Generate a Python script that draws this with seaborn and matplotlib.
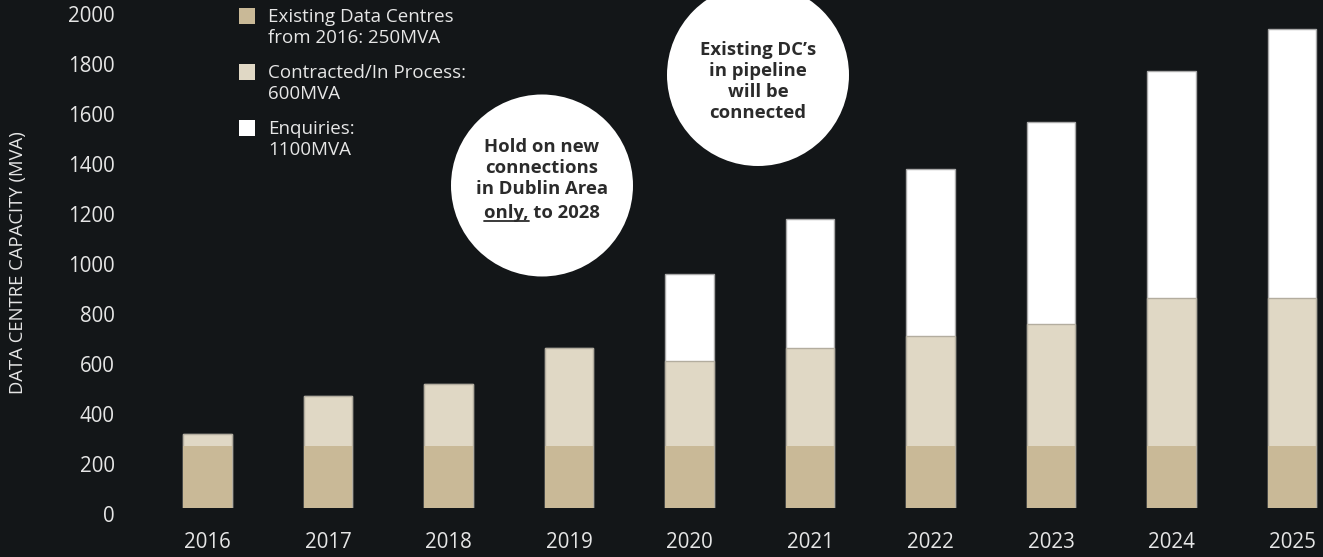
import matplotlib
matplotlib.use('Agg')
import matplotlib.pyplot as plt
import seaborn as sns
import pandas as pd
from matplotlib.patches import Circle, Rectangle
from matplotlib.lines import Line2D
from matplotlib.transforms import ScaledTranslation

# values (MVA)
years = ['2016', '2017', '2018', '2019', '2020', '2021', '2022', '2023', '2024', '2025']
existing = [250, 250, 250, 250, 250, 250, 250, 250, 250, 250]
contracted = [45, 200, 245, 390, 340, 390, 437, 486, 590, 590]
enquiries = [0, 0, 0, 0, 345, 515, 668, 809, 908, 1078]

legend_labels = ['Existing Data Centres\nfrom 2016: 250MVA',
                 'Contracted/In Process:\n600MVA',
                 'Enquiries:\n1100MVA']
hold_note = 'Hold on new\nconnections\nin Dublin Area'
hold_last = ('only,', ' to 2028')
pipeline_note = 'Existing DC\u2019s\nin pipeline\nwill be\nconnected'
y_title = 'DATA CENTRE CAPACITY (MVA)'

BG = '#131618'
TXT = '#e6e6e6'
NOTE = '#2b2b2b'
C_EXIST = '#c9b997'
C_CONTR = '#e0d8c5'
C_ENQ = '#ffffff'

sns.set_theme(style='dark')
plt.rcParams['font.family'] = ['Open Sans', 'DejaVu Sans']

df = pd.DataFrame({'year': years, 'existing': existing,
                   'contracted': contracted, 'enquiries': enquiries})
df['lvl1'] = df['existing']
df['lvl2'] = df['lvl1'] + df['contracted']
df['lvl3'] = df['lvl2'] + df['enquiries']

fig = plt.figure(figsize=(13.23, 5.57), dpi=100, facecolor=BG)
ax = fig.add_axes([130 / 1323, 49 / 557, 1193 / 1323, 508 / 557])
ax.set_facecolor(BG)

# stacked look: draw cumulative totals, tallest first
sns.barplot(data=df, x='year', y='lvl3', order=years, color=C_ENQ, saturation=1,
            width=0.4, edgecolor='#a9a9a9', linewidth=1, errorbar=None, ax=ax)
sns.barplot(data=df, x='year', y='lvl2', order=years, color=C_CONTR, saturation=1,
            width=0.4, edgecolor='#b3ad9f', linewidth=1, errorbar=None, ax=ax)
sns.barplot(data=df, x='year', y='lvl1', order=years, color=C_EXIST, saturation=1,
            width=0.4, linewidth=0, errorbar=None, ax=ax)

ax.set_xlim(-0.643, 9.257)
ax.set_ylim(0, 2032)
ax.set_yticks(range(0, 2001, 200))
ax.set_xlabel('')
ax.set_ylabel(y_title, fontsize=13.3, color=TXT)
ax.yaxis.set_label_coords(-0.0865, 0.484)
ax.grid(False)
for s in ax.spines.values():
    s.set_visible(False)
ax.tick_params(axis='both', length=0, colors=TXT, labelsize=14.8)
ax.tick_params(axis='y', pad=10.8)
ax.tick_params(axis='x', pad=17)
for lab in ax.get_yticklabels():
    lab.set_transform(lab.get_transform() + ScaledTranslation(0, -0.055, fig.dpi_scale_trans))

# legend drawn by hand so the swatch sits on the first text line
fills = [C_EXIST, C_CONTR, C_ENQ]
for i, (lab, col) in enumerate(zip(legend_labels, fills)):
    top = 5.49 - i * 0.56
    fig.add_artist(Rectangle((2.39, top - 0.16), 0.16, 0.16, transform=fig.dpi_scale_trans,
                             facecolor=col, edgecolor='none'))
    fig.text(2.68, top + 0.005, lab, transform=fig.dpi_scale_trans, ha='left', va='top',
             fontsize=13.5, color=TXT, linespacing=1.265)

# call-out circles
fig.add_artist(Circle((5.42, 3.715), 0.91, transform=fig.dpi_scale_trans,
                      facecolor='white', edgecolor='none', zorder=5))
fig.add_artist(Circle((7.58, 4.82), 0.91, transform=fig.dpi_scale_trans,
                      facecolor='white', edgecolor='none', zorder=5))

fig.text(5.42, 3.89, hold_note, transform=fig.dpi_scale_trans, ha='center', va='center',
         fontsize=13.3, fontweight='bold', color=NOTE, linespacing=1.23, zorder=6)
last = fig.text(5.42, 3.44, hold_last[0] + hold_last[1], transform=fig.dpi_scale_trans,
                ha='center', va='center', fontsize=13.3, fontweight='bold', color=NOTE, zorder=6)
fig.text(7.58, 4.755, pipeline_note, transform=fig.dpi_scale_trans, ha='center', va='center',
         fontsize=13.3, fontweight='bold', color=NOTE, linespacing=1.23, zorder=6)

# underline the word "only,"
fig.canvas.draw()
rend = fig.canvas.get_renderer()
bb = last.get_window_extent(rend)
probe = fig.text(0, 0, hold_last[0], fontsize=13.3, fontweight='bold')
w = probe.get_window_extent(rend).width
probe.remove()
uy = bb.y0 + 1
fig.add_artist(Line2D([bb.x0, bb.x0 + w], [uy, uy], transform=None,
                      color=NOTE, linewidth=1.3, zorder=7))

fig.savefig('out.png', dpi=100, facecolor=BG)
